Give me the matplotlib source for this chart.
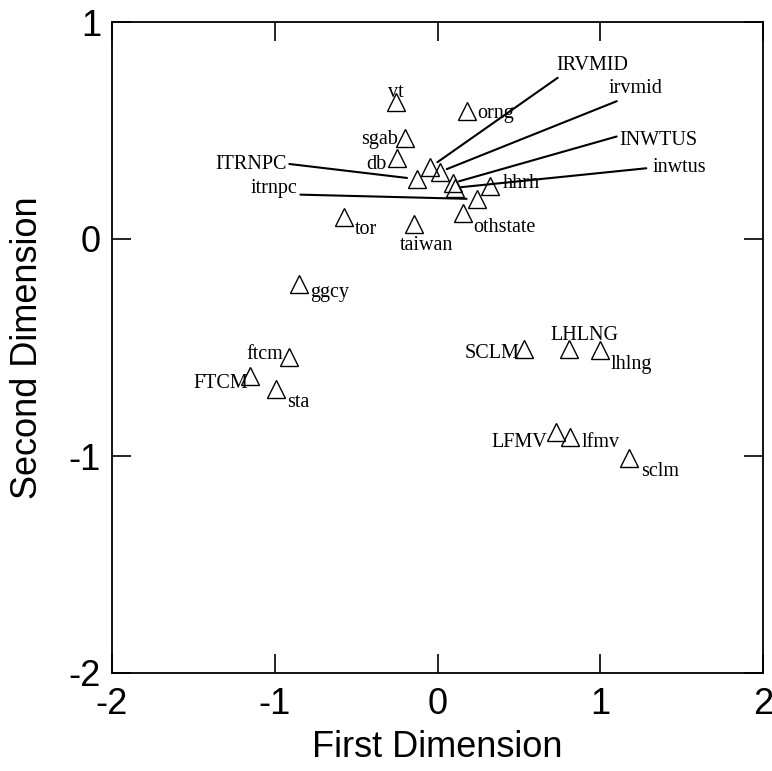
import matplotlib
matplotlib.use('Agg')
import matplotlib.pyplot as plt

plt.rcParams['axes.unicode_minus'] = False

# point names and coordinates
names = ['vt', 'orng', 'sgab', 'db', 'IRVMID', 'irvmid', 'ITRNPC', 'INWTUS',
         'inwtus', 'hhrh', 'itrnpc', 'othstate', 'tor', 'taiwan', 'ggcy',
         'ftcm', 'FTCM', 'sta', 'SCLM', 'LHLNG', 'lhlng', 'LFMV', 'lfmv', 'sclm']
dim1 = [-0.257, 0.183, -0.200, -0.247, -0.046, 0.017, -0.128, 0.095,
        0.108, 0.324, 0.243, 0.155, -0.573, -0.146, -0.853,
        -0.914, -1.150, -0.990, 0.533, 0.806, 1.000, 0.726, 0.816, 1.177]
dim2 = [0.630, 0.588, 0.465, 0.375, 0.330, 0.310, 0.276, 0.258,
        0.236, 0.246, 0.184, 0.118, 0.101, 0.068, -0.207,
        -0.545, -0.631, -0.691, -0.507, -0.508, -0.512, -0.891, -0.911, -1.009]
ticks = [-2, -1, 0, 1, 2]

# label placement: offset in points (dx, dy) to text baseline, alignment
place = {
    'vt': (0, 4.0, 'center'), 'orng': (7.5, -5.0, 'left'),
    'sgab': (-4.8, -4.3, 'right'), 'db': (-8.1, -8.4, 'right'),
    'hhrh': (8.9, -1.9, 'left'), 'othstate': (7.6, -13.2, 'left'),
    'tor': (7.7, -12.2, 'left'), 'taiwan': (8.9, -18.5, 'center'),
    'ggcy': (8.6, -9.6, 'left'), 'ftcm': (-4.3, -1.2, 'right'),
    'FTCM': (-1.4, -8.9, 'right'), 'sta': (7.5, -13.2, 'left'),
    'SCLM': (-3.1, -6.7, 'right'), 'LHLNG': (11.0, 6.7, 'center'),
    'lhlng': (7.5, -13.7, 'left'), 'LFMV': (-6.0, -10.4, 'right'),
    'lfmv': (8.2, -7.6, 'left'), 'sclm': (8.4, -12.7, 'left'),
}
# labels with leader lines: offset, line start on text box (relpos), shrink at point
leader = {
    'IRVMID': (117.0, 70.1, (0.07, 0.0), 6.5),
    'irvmid': (140.9, 56.4, (0.45, 0.2), 5.0),
    'INWTUS': (148.0, 27.4, (0.0, 0.75), 4.5),
    'inwtus': (161.6, 11.5, (-0.12, 0.45), 4.0),
    'ITRNPC': (-119.4, 7.2, (1.0, 0.55), 7.0),
    'itrnpc': (-146.0, 4.1, (1.0, 0.2), 7.5),
}

fig = plt.figure(figsize=(7.72, 7.71), dpi=100)
ax = fig.add_axes([112 / 772, 98 / 771, 651 / 772, 651 / 771])

ax.plot(dim1, dim2, linestyle='none', marker='^', markersize=13,
        markerfacecolor='none', markeredgecolor='black', markeredgewidth=1.0)

serif = dict(family='Liberation Serif', size=14.5)
for n, x, y in zip(names, dim1, dim2):
    if n in leader:
        dx, dy, rp, sh = leader[n]
        ax.annotate(n, xy=(x, y), xytext=(dx, dy), textcoords='offset points',
                    ha='center', va='baseline', **serif,
                    arrowprops=dict(arrowstyle='-', lw=1.5, color='black',
                                    relpos=rp, shrinkA=0, shrinkB=sh))
    else:
        dx, dy, ha = place[n]
        ax.annotate(n, xy=(x, y), xytext=(dx, dy), textcoords='offset points',
                    ha=ha, va='baseline', **serif)

ax.set_xlim(-2, 2)
ax.set_ylim(-2, 1)
ax.set_xticks(ticks)
ax.set_yticks(ticks[:-1])
ax.tick_params(direction='in', length=14, width=1.2, top=True, right=True,
               labelsize=26, pad=8)
ax.tick_params(axis='x', pad=10)
for lab in ax.get_xticklabels() + ax.get_yticklabels():
    lab.set_family('Liberation Sans')
for s in ax.spines.values():
    s.set_linewidth(1.3)

ax.set_xlabel('First Dimension', fontsize=26, family='Liberation Sans', labelpad=6)
ax.set_ylabel('Second Dimension', fontsize=26, family='Liberation Sans', labelpad=17)

plt.savefig('out.png', dpi=100)
